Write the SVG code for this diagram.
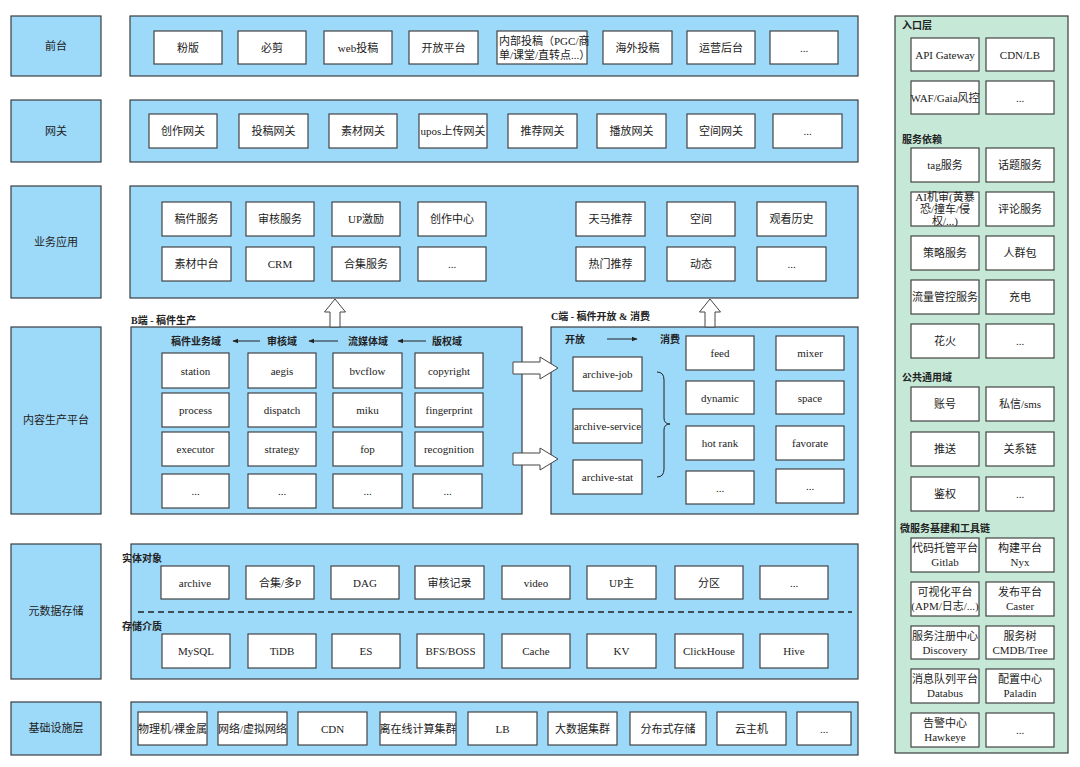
<svg xmlns="http://www.w3.org/2000/svg" width="1080" height="767" viewBox="0 0 1080 767">
<style>
.bg{fill:#9DD9F9;stroke:#3a3d40;stroke-width:1.2}
.gr{fill:#C6E9D7;stroke:#3a3d40;stroke-width:1.2}
.bx{fill:#ffffff;stroke:#444;stroke-width:1.2}
text{font-family:"Liberation Serif","Noto Sans CJK SC",serif;font-size:11px;fill:#222;text-anchor:middle;dominant-baseline:central}
.hd{font-size:10px;font-weight:bold;text-anchor:start}
.hc{font-size:10px;font-weight:bold}
.ln{fill:none;stroke:#222;stroke-width:1}
.blk{fill:#ffffff;stroke:#444;stroke-width:1}
</style>
<defs>
<marker id="ah" viewBox="0 0 10 10" refX="9" refY="5" markerWidth="6" markerHeight="6" orient="auto-start-reverse">
<path d="M0,1 L10,5 L0,9 Z" fill="#222"/>
</marker>
</defs>
<rect width="1080" height="767" fill="#ffffff"/>

<g id="layer-labels">
<g id="lbl-qiantai"><rect class="bg" x="11" y="16" width="90" height="60"/><text x="56" y="46">前台</text></g>
<g id="lbl-wangguan"><rect class="bg" x="11" y="100" width="90" height="62"/><text x="56" y="131">网关</text></g>
<g id="lbl-yewu"><rect class="bg" x="11" y="186" width="90" height="112"/><text x="56" y="242">业务应用</text></g>
<g id="lbl-neirong"><rect class="bg" x="11" y="327" width="90" height="187"/><text x="56" y="420">内容生产平台</text></g>
<g id="lbl-yuan"><rect class="bg" x="11" y="544" width="90" height="135"/><text x="56" y="611">元数据存储</text></g>
<g id="lbl-jichu"><rect class="bg" x="11" y="702" width="90" height="53"/><text x="56" y="728">基础设施层</text></g>
</g>

<g id="panel-qiantai">
<rect class="bg" x="130" y="16" width="728" height="60"/>
<g id="n-fenban"><rect class="bx" x="154" y="31" width="68" height="33"/><text x="188" y="47.5">粉版</text></g>
<g id="n-bijian"><rect class="bx" x="238" y="31" width="68" height="33"/><text x="272" y="47.5">必剪</text></g>
<g id="n-web"><rect class="bx" x="324" y="31" width="68" height="33"/><text x="358" y="47.5">web投稿</text></g>
<g id="n-kaifang"><rect class="bx" x="409" y="31" width="69" height="33"/><text x="443.5" y="47.5">开放平台</text></g>
<g id="n-neibu"><rect class="bx" x="497" y="31" width="90" height="33"/><text x="499" y="41" style="text-anchor:start">内部投稿（PGC/商</text><text x="499" y="55" style="text-anchor:start">单/课堂/直转点...）</text></g>
<g id="n-haiwai"><rect class="bx" x="603" y="31" width="69" height="33"/><text x="637.5" y="47.5">海外投稿</text></g>
<g id="n-yunying"><rect class="bx" x="687" y="31" width="68" height="33"/><text x="721" y="47.5">运营后台</text></g>
<g id="n-qt-more"><rect class="bx" x="770" y="31" width="68" height="33"/><text x="804" y="47.5">...</text></g>
</g>

<g id="panel-wangguan">
<rect class="bg" x="130" y="100" width="728" height="62"/>
<g id="n-chuangzuowg"><rect class="bx" x="149" y="114" width="68" height="34"/><text x="183" y="131">创作网关</text></g>
<g id="n-tougaowg"><rect class="bx" x="239" y="114" width="69" height="34"/><text x="273.5" y="131">投稿网关</text></g>
<g id="n-sucaiwg"><rect class="bx" x="329" y="114" width="68" height="34"/><text x="363" y="131">素材网关</text></g>
<g id="n-uposwg"><rect class="bx" x="419" y="114" width="68" height="34"/><text x="453" y="131">upos上传网关</text></g>
<g id="n-tuijianwg"><rect class="bx" x="508" y="114" width="69" height="34"/><text x="542.5" y="131">推荐网关</text></g>
<g id="n-bofangwg"><rect class="bx" x="597" y="114" width="69" height="34"/><text x="631.5" y="131">播放网关</text></g>
<g id="n-kongjianwg"><rect class="bx" x="687" y="114" width="68" height="34"/><text x="721" y="131">空间网关</text></g>
<g id="n-wg-more"><rect class="bx" x="773" y="114" width="69" height="34"/><text x="807.5" y="131">...</text></g>
</g>

<g id="panel-yewu">
<rect class="bg" x="130" y="186" width="728" height="112"/>
<g id="n-gaojian"><rect class="bx" x="162" y="202" width="69" height="34"/><text x="196.5" y="219">稿件服务</text></g>
<g id="n-shenhe"><rect class="bx" x="246" y="202" width="68" height="34"/><text x="280" y="219">审核服务</text></g>
<g id="n-upjl"><rect class="bx" x="332" y="202" width="68" height="34"/><text x="366" y="219">UP激励</text></g>
<g id="n-czzx"><rect class="bx" x="418" y="202" width="68" height="34"/><text x="452" y="219">创作中心</text></g>
<g id="n-tianma"><rect class="bx" x="576" y="202" width="69" height="34"/><text x="610.5" y="219">天马推荐</text></g>
<g id="n-kongjian"><rect class="bx" x="667" y="202" width="68" height="34"/><text x="701" y="219">空间</text></g>
<g id="n-guankan"><rect class="bx" x="757" y="202" width="69" height="34"/><text x="791.5" y="219">观看历史</text></g>
<g id="n-sucaizt"><rect class="bx" x="162" y="247" width="69" height="34"/><text x="196.5" y="264">素材中台</text></g>
<g id="n-crm"><rect class="bx" x="246" y="247" width="68" height="34"/><text x="280" y="264">CRM</text></g>
<g id="n-heji"><rect class="bx" x="332" y="247" width="68" height="34"/><text x="366" y="264">合集服务</text></g>
<g id="n-yw-more1"><rect class="bx" x="418" y="247" width="68" height="34"/><text x="452" y="264">...</text></g>
<g id="n-remen"><rect class="bx" x="576" y="247" width="69" height="34"/><text x="610.5" y="264">热门推荐</text></g>
<g id="n-dongtai"><rect class="bx" x="667" y="247" width="68" height="34"/><text x="701" y="264">动态</text></g>
<g id="n-yw-more2"><rect class="bx" x="757" y="247" width="69" height="34"/><text x="791.5" y="264">...</text></g>
</g>

<g id="panel-b">
<text class="hd" x="131" y="320">B端 - 稿件生产</text>
<rect class="bg" x="131" y="327" width="391" height="187"/>
<text class="hc" x="196" y="341">稿件业务域</text>
<text class="hc" x="282" y="341">审核域</text>
<text class="hc" x="368" y="341">流媒体域</text>
<text class="hc" x="447" y="341">版权域</text>
<g id="n-station"><rect class="bx" x="162" y="353" width="67" height="35"/><text x="195.5" y="370.5">station</text></g>
<g id="n-aegis"><rect class="bx" x="248" y="353" width="68" height="35"/><text x="282" y="370.5">aegis</text></g>
<g id="n-bvcflow"><rect class="bx" x="333" y="353" width="69" height="35"/><text x="367.5" y="370.5">bvcflow</text></g>
<g id="n-copyright"><rect class="bx" x="415" y="353" width="68" height="35"/><text x="449" y="370.5">copyright</text></g>
<g id="n-process"><rect class="bx" x="162" y="393" width="67" height="34"/><text x="195.5" y="410">process</text></g>
<g id="n-dispatch"><rect class="bx" x="248" y="393" width="68" height="34"/><text x="282" y="410">dispatch</text></g>
<g id="n-miku"><rect class="bx" x="333" y="393" width="69" height="34"/><text x="367.5" y="410">miku</text></g>
<g id="n-fingerprint"><rect class="bx" x="415" y="393" width="68" height="34"/><text x="449" y="410">fingerprint</text></g>
<g id="n-executor"><rect class="bx" x="162" y="432" width="67" height="34"/><text x="195.5" y="449">executor</text></g>
<g id="n-strategy"><rect class="bx" x="248" y="432" width="68" height="34"/><text x="282" y="449">strategy</text></g>
<g id="n-fop"><rect class="bx" x="333" y="432" width="69" height="34"/><text x="367.5" y="449">fop</text></g>
<g id="n-recognition"><rect class="bx" x="415" y="432" width="68" height="34"/><text x="449" y="449">recognition</text></g>
<g id="n-b-more1"><rect class="bx" x="162" y="474" width="67" height="34"/><text x="195.5" y="491">...</text></g>
<g id="n-b-more2"><rect class="bx" x="248" y="474" width="68" height="34"/><text x="282" y="491">...</text></g>
<g id="n-b-more3"><rect class="bx" x="333" y="474" width="69" height="34"/><text x="367.5" y="491">...</text></g>
<g id="n-b-more4"><rect class="bx" x="413" y="474" width="69" height="34"/><text x="447.5" y="491">...</text></g>
</g>

<g id="panel-c">
<text class="hd" x="551" y="316">C端 - 稿件开放 &amp; 消费</text>
<rect class="bg" x="551" y="327" width="307" height="187"/>
<text class="hc" x="575" y="339">开放</text>
<text class="hc" x="670" y="339">消费</text>
<g id="n-ajob"><rect class="bx" x="573" y="357" width="69" height="34"/><text x="607.5" y="374">archive-job</text></g>
<g id="n-aservice"><rect class="bx" x="573" y="409" width="69" height="34"/><text x="607.5" y="426">archive-service</text></g>
<g id="n-astat"><rect class="bx" x="573" y="460" width="69" height="34"/><text x="607.5" y="477">archive-stat</text></g>
<g id="n-feed"><rect class="bx" x="686" y="336" width="68" height="34"/><text x="720" y="353">feed</text></g>
<g id="n-mixer"><rect class="bx" x="776" y="336" width="68" height="34"/><text x="810" y="353">mixer</text></g>
<g id="n-dynamic"><rect class="bx" x="686" y="381" width="68" height="33"/><text x="720" y="397.5">dynamic</text></g>
<g id="n-space"><rect class="bx" x="776" y="381" width="68" height="33"/><text x="810" y="397.5">space</text></g>
<g id="n-hotrank"><rect class="bx" x="686" y="426" width="68" height="34"/><text x="720" y="443">hot rank</text></g>
<g id="n-favorate"><rect class="bx" x="776" y="426" width="68" height="34"/><text x="810" y="443">favorate</text></g>
<g id="n-c-more1"><rect class="bx" x="686" y="471" width="68" height="33"/><text x="720" y="487.5">...</text></g>
<g id="n-c-more2"><rect class="bx" x="776" y="469" width="68" height="34"/><text x="810" y="486">...</text></g>
</g>

<g id="panel-yuan">
<rect class="bg" x="131" y="544" width="727" height="135"/>
<text class="hd" x="122" y="558">实体对象</text>
<text class="hd" x="122" y="626">存储介质</text>
<g id="n-archive"><rect class="bx" x="161" y="566" width="68" height="33"/><text x="195" y="582.5">archive</text></g>
<g id="n-hejiduop"><rect class="bx" x="246" y="566" width="68" height="33"/><text x="280" y="582.5">合集/多P</text></g>
<g id="n-dag"><rect class="bx" x="331" y="566" width="68" height="33"/><text x="365" y="582.5">DAG</text></g>
<g id="n-shjl"><rect class="bx" x="415" y="566" width="69" height="33"/><text x="449.5" y="582.5">审核记录</text></g>
<g id="n-video"><rect class="bx" x="502" y="566" width="68" height="33"/><text x="536" y="582.5">video</text></g>
<g id="n-upzhu"><rect class="bx" x="587" y="566" width="69" height="33"/><text x="621.5" y="582.5">UP主</text></g>
<g id="n-fenqu"><rect class="bx" x="675" y="566" width="68" height="33"/><text x="709" y="582.5">分区</text></g>
<g id="n-y-more"><rect class="bx" x="760" y="566" width="68" height="33"/><text x="794" y="582.5">...</text></g>
<g id="n-mysql"><rect class="bx" x="162" y="634" width="68" height="34"/><text x="196" y="651">MySQL</text></g>
<g id="n-tidb"><rect class="bx" x="248" y="634" width="68" height="34"/><text x="282" y="651">TiDB</text></g>
<g id="n-es"><rect class="bx" x="332" y="634" width="68" height="34"/><text x="366" y="651">ES</text></g>
<g id="n-bfs"><rect class="bx" x="417" y="634" width="67" height="34"/><text x="450.5" y="651">BFS/BOSS</text></g>
<g id="n-cache"><rect class="bx" x="502" y="634" width="68" height="34"/><text x="536" y="651">Cache</text></g>
<g id="n-kv"><rect class="bx" x="587" y="634" width="69" height="34"/><text x="621.5" y="651">KV</text></g>
<g id="n-clickhouse"><rect class="bx" x="675" y="634" width="68" height="34"/><text x="709" y="651">ClickHouse</text></g>
<g id="n-hive"><rect class="bx" x="760" y="634" width="68" height="34"/><text x="794" y="651">Hive</text></g>
</g>

<g id="panel-jichu">
<rect class="bg" x="131" y="702" width="727" height="53"/>
<g id="n-wuliji"><rect class="bx" x="138" y="712" width="69" height="33"/><text x="172.5" y="728.5">物理机/裸金属</text></g>
<g id="n-wangluo"><rect class="bx" x="218" y="712" width="69" height="33"/><text x="252.5" y="728.5">网络/虚拟网络</text></g>
<g id="n-cdn"><rect class="bx" x="298" y="712" width="69" height="33"/><text x="332.5" y="728.5">CDN</text></g>
<g id="n-lizaixian"><rect class="bx" x="380" y="712" width="76" height="33"/><text x="418" y="728.5">离在线计算集群</text></g>
<g id="n-lb"><rect class="bx" x="468" y="712" width="69" height="33"/><text x="502.5" y="728.5">LB</text></g>
<g id="n-dashuju"><rect class="bx" x="548" y="712" width="69" height="33"/><text x="582.5" y="728.5">大数据集群</text></g>
<g id="n-fenbushi"><rect class="bx" x="630" y="712" width="76" height="33"/><text x="668" y="728.5">分布式存储</text></g>
<g id="n-yunzhuji"><rect class="bx" x="717" y="712" width="69" height="33"/><text x="751.5" y="728.5">云主机</text></g>
<g id="n-j-more"><rect class="bx" x="797" y="712" width="54" height="33"/><text x="824" y="728.5">...</text></g>
</g>

<g id="panel-right">
<rect class="gr" x="895" y="16" width="173" height="737"/>
<text class="hd" x="902" y="25">入口层</text>
<g id="n-apigw"><rect class="bx" x="911" y="38" width="68" height="33"/><text x="945" y="54.5">API Gateway</text></g>
<g id="n-cdnlb"><rect class="bx" x="986" y="38" width="68" height="33"/><text x="1020" y="54.5">CDN/LB</text></g>
<g id="n-waf"><rect class="bx" x="911" y="81" width="68" height="33"/><text x="945" y="97.5">WAF/Gaia风控</text></g>
<g id="n-r-more1"><rect class="bx" x="986" y="81" width="68" height="33"/><text x="1020" y="97.5">...</text></g>
<text class="hd" x="902" y="139">服务依赖</text>
<g id="n-tag"><rect class="bx" x="911" y="148" width="68" height="34"/><text x="945" y="165">tag服务</text></g>
<g id="n-huati"><rect class="bx" x="986" y="148" width="68" height="34"/><text x="1020" y="165">话题服务</text></g>
<g id="n-ai"><rect class="bx" x="911" y="192" width="68" height="34"/><text x="945" y="197">AI机审(黄暴</text><text x="945" y="209">恐/撞车/侵</text><text x="945" y="221">权/...)</text></g>
<g id="n-pinglun"><rect class="bx" x="986" y="192" width="68" height="34"/><text x="1020" y="209">评论服务</text></g>
<g id="n-celue"><rect class="bx" x="911" y="236" width="68" height="34"/><text x="945" y="253">策略服务</text></g>
<g id="n-renqun"><rect class="bx" x="986" y="236" width="68" height="34"/><text x="1020" y="253">人群包</text></g>
<g id="n-liuliang"><rect class="bx" x="911" y="280" width="68" height="34"/><text x="945" y="297">流量管控服务</text></g>
<g id="n-chongdian"><rect class="bx" x="986" y="280" width="68" height="34"/><text x="1020" y="297">充电</text></g>
<g id="n-huahuo"><rect class="bx" x="911" y="324" width="68" height="34"/><text x="945" y="341">花火</text></g>
<g id="n-r-more2"><rect class="bx" x="986" y="324" width="68" height="34"/><text x="1020" y="341">...</text></g>
<text class="hd" x="902" y="377">公共通用域</text>
<g id="n-zhanghao"><rect class="bx" x="911" y="387" width="68" height="34"/><text x="945" y="404">账号</text></g>
<g id="n-sixin"><rect class="bx" x="986" y="387" width="68" height="34"/><text x="1020" y="404">私信/sms</text></g>
<g id="n-tuisong"><rect class="bx" x="911" y="432" width="68" height="34"/><text x="945" y="449">推送</text></g>
<g id="n-guanxi"><rect class="bx" x="986" y="432" width="68" height="34"/><text x="1020" y="449">关系链</text></g>
<g id="n-jianquan"><rect class="bx" x="911" y="477" width="68" height="34"/><text x="945" y="494">鉴权</text></g>
<g id="n-r-more3"><rect class="bx" x="986" y="477" width="68" height="34"/><text x="1020" y="494">...</text></g>
<text class="hd" x="900" y="528">微服务基建和工具链</text>
<g id="n-gitlab"><rect class="bx" x="911" y="538" width="68" height="34"/><text x="945" y="548">代码托管平台</text><text x="945" y="562">Gitlab</text></g>
<g id="n-nyx"><rect class="bx" x="986" y="538" width="68" height="34"/><text x="1020" y="548">构建平台</text><text x="1020" y="562">Nyx</text></g>
<g id="n-apm"><rect class="bx" x="911" y="582" width="68" height="34"/><text x="945" y="592">可视化平台</text><text x="945" y="606">(APM/日志/...)</text></g>
<g id="n-caster"><rect class="bx" x="986" y="582" width="68" height="34"/><text x="1020" y="592">发布平台</text><text x="1020" y="606">Caster</text></g>
<g id="n-discovery"><rect class="bx" x="911" y="626" width="68" height="33"/><text x="945" y="635.5">服务注册中心</text><text x="945" y="649.5">Discovery</text></g>
<g id="n-cmdb"><rect class="bx" x="986" y="626" width="68" height="33"/><text x="1020" y="635.5">服务树</text><text x="1020" y="649.5">CMDB/Tree</text></g>
<g id="n-databus"><rect class="bx" x="911" y="669" width="68" height="34"/><text x="945" y="679">消息队列平台</text><text x="945" y="693">Databus</text></g>
<g id="n-paladin"><rect class="bx" x="986" y="669" width="68" height="34"/><text x="1020" y="679">配置中心</text><text x="1020" y="693">Paladin</text></g>
<g id="n-hawkeye"><rect class="bx" x="911" y="713" width="68" height="34"/><text x="945" y="723">告警中心</text><text x="945" y="737">Hawkeye</text></g>
<g id="n-r-more4"><rect class="bx" x="986" y="713" width="68" height="34"/><text x="1020" y="730">...</text></g>
</g>

<g id="connectors">
<path class="blk" d="M335,299 L345.5,312 L340,312 L340,327 L330,327 L330,312 L324.5,312 Z"/>
<path class="blk" d="M710,299 L720.5,312 L715,312 L715,327 L705,327 L705,312 L699.5,312 Z"/>
<path class="blk" d="M558,368 L540,357 L540,362 L513,362 L513,374 L540,374 L540,379 Z"/>
<path class="blk" d="M558,459 L540,448 L540,453 L513,453 L513,465 L540,465 L540,470 Z"/>
<line class="ln" x1="260" y1="341" x2="233" y2="341" marker-end="url(#ah)"/>
<line class="ln" x1="338" y1="341" x2="309" y2="341" marker-end="url(#ah)"/>
<line class="ln" x1="426" y1="341" x2="398" y2="341" marker-end="url(#ah)"/>
<line class="ln" x1="607" y1="339" x2="637" y2="339" marker-end="url(#ah)"/>
<path class="ln" d="M657,372 Q664,372 664,380 L664,418 Q664,424 670,424 Q664,424 664,430 L664,469 Q664,477 657,477"/>
<line x1="138" y1="612" x2="852" y2="612" stroke="#222" stroke-width="1.5" stroke-dasharray="6,4"/>
</g>
</svg>
